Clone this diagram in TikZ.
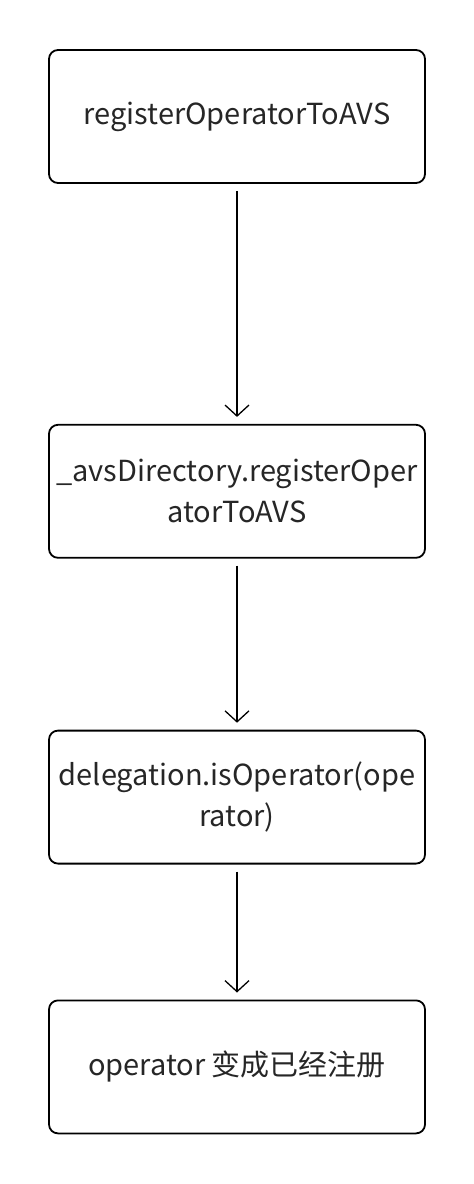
\documentclass[tikz,border=0pt]{standalone}
\usepackage{fontspec}
\setmainfont{Noto Sans CJK SC}
\usetikzlibrary{positioning,arrows.meta}

\begin{document}
\begin{tikzpicture}[font=\fontsize{29}{41}\selectfont, color={black!85}, box/.style={draw=black, line width=1.8pt, rounded corners=9pt, align=center, minimum height=133pt, minimum width=376pt, inner sep=2pt}, arr/.style={-{Straight Barb[length=11pt, width=24pt, line width=1.3pt]}, line width=1.3pt, draw=black, shorten <=7pt, shorten >=7pt}]
\useasboundingbox (0,0) rectangle (474pt,-1184pt);
\node[box] (reg) at (237pt,-116.5pt) {registerOperatorToAVS};
\node[box, below=240pt of reg] (dir) {\_avsDirectory.registerOper\\atorToAVS};
\node[box, below=171pt of dir] (isop) {delegation.isOperator(ope\\rator)};
\node[box, below=135pt of isop] (done) {operator 变成已经注册};
\draw[arr] (reg) -- (dir); \draw[arr] (dir) -- (isop); \draw[arr] (isop) -- (done);
\end{tikzpicture}
\end{document}
